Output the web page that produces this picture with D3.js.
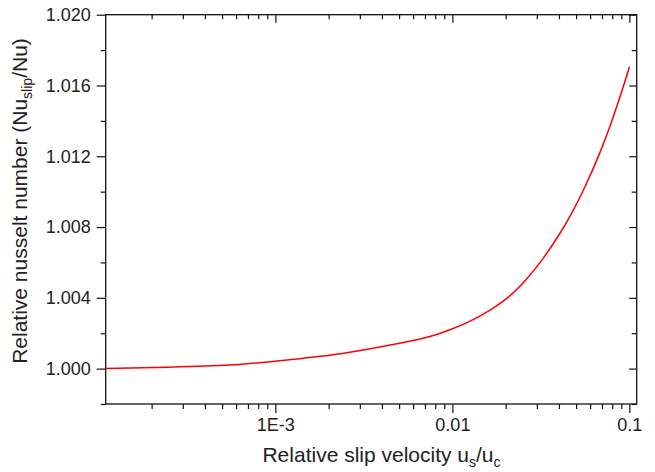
<!DOCTYPE html>
<html>
<head>
<meta charset="utf-8">
<script src="https://cdn.jsdelivr.net/npm/d3@7"></script>
<style>
  html, body { margin: 0; padding: 0; background: #fff; }
  svg { display: block; }
  text { font-family: "Liberation Sans", Arial, Helvetica, sans-serif; fill: #222; }
</style>
</head>
<body>
<svg id="chart" width="655" height="472"></svg>
<script>
// ---- data ----
const slipVelocity = [1.1e-4, 2.47e-4, 5.83e-4, 1.221e-3, 2.331e-3, 4.454e-3, 7.456e-3, 9.672e-3, 0.01251, 0.01632, 0.02103, 0.02612, 0.03234, 0.04014, 0.04766, 0.05666, 0.06824, 0.07947, 0.0924, 0.1];
const nusseltRatio = [1.00000, 1.00008, 1.00022, 1.00051, 1.00084, 1.00133, 1.00182, 1.00220, 1.00267, 1.00331, 1.00410, 1.00504, 1.00619, 1.00758, 1.00886, 1.01036, 1.01222, 1.01398, 1.01594, 1.01706];
const xMajorTicks = [1e-3, 1e-2, 1e-1];
const xTickLabels = ["1E-3", "0.01", "0.1"];
const yMajorTicks = [1.000, 1.004, 1.008, 1.012, 1.016, 1.020];
const yTickLabels = ["1.000", "1.004", "1.008", "1.012", "1.016", "1.020"];
const yMinorTicks = [0.998, 1.002, 1.006, 1.010, 1.014, 1.018];
const xDomain = [1.1e-4, 0.11];
const yDomain = [0.998, 1.020];

// ---- layout ----
const mLeft = 105.7, mRight = 636.7, mTop = 14.7, mBottom = 404;
const svg = d3.select("#chart");

const x = d3.scaleLog().domain(xDomain).range([mLeft, mRight]);
const y = d3.scaleLinear().domain(yDomain).range([mBottom, mTop]);

// minor x ticks: 2..9 x 10^k inside domain
const xMinorTicks = [];
[-4, -3, -2, -1].forEach(k => {
  for (let m = 2; m <= 9; m++) {
    const v = m * Math.pow(10, k);
    if (v >= xDomain[0] && v <= xDomain[1]) xMinorTicks.push(v);
  }
});

function styleAxis(g) {
  g.select(".domain").remove();
  g.selectAll(".tick line").attr("stroke", "#111").attr("stroke-width", 1.2);
  g.selectAll("text").attr("font-size", 18).attr("fill", "#222")
    .style("font-family", '"Liberation Sans", Arial, sans-serif');
}

// bottom axis
svg.append("g").attr("transform", `translate(0,${mBottom})`)
  .call(d3.axisBottom(x).tickValues(xMinorTicks).tickSize(5).tickFormat(""))
  .call(styleAxis);
svg.append("g").attr("transform", `translate(0,${mBottom})`)
  .call(d3.axisBottom(x).tickValues(xMajorTicks).tickSize(9).tickPadding(5)
    .tickFormat((d, i) => xTickLabels[i]))
  .call(styleAxis);

// top axis (inward ticks)
svg.append("g").attr("transform", `translate(0,${mTop})`)
  .call(d3.axisTop(x).tickValues(xMinorTicks).tickSize(-4.5).tickFormat(""))
  .call(styleAxis);
svg.append("g").attr("transform", `translate(0,${mTop})`)
  .call(d3.axisTop(x).tickValues(xMajorTicks).tickSize(-8).tickFormat(""))
  .call(styleAxis);

// left axis
svg.append("g").attr("transform", `translate(${mLeft},0)`)
  .call(d3.axisLeft(y).tickValues(yMinorTicks).tickSize(5).tickFormat(""))
  .call(styleAxis);
svg.append("g").attr("transform", `translate(${mLeft},0)`)
  .call(d3.axisLeft(y).tickValues(yMajorTicks).tickSize(9).tickPadding(6)
    .tickFormat((d, i) => yTickLabels[i]))
  .call(styleAxis);

// right axis (inward ticks)
svg.append("g").attr("transform", `translate(${mRight},0)`)
  .call(d3.axisRight(y).tickValues(yMinorTicks).tickSize(-5).tickFormat(""))
  .call(styleAxis);
svg.append("g").attr("transform", `translate(${mRight},0)`)
  .call(d3.axisRight(y).tickValues(yMajorTicks).tickSize(-7.5).tickFormat(""))
  .call(styleAxis);

// frame
svg.append("rect")
  .attr("x", mLeft).attr("y", mTop)
  .attr("width", mRight - mLeft).attr("height", mBottom - mTop)
  .attr("fill", "none").attr("stroke", "#111").attr("stroke-width", 1.3);

// curve
const pts = slipVelocity.map((v, i) => [v, nusseltRatio[i]]);
const line = d3.line()
  .x(d => x(d[0])).y(d => y(d[1]))
  .curve(d3.curveCatmullRom.alpha(0.5));
svg.append("path").datum(pts)
  .attr("d", line)
  .attr("fill", "none")
  .attr("stroke", "#ff0000")
  .attr("stroke-width", 1.5);

// x title
const xt = svg.append("text")
  .attr("x", 381.5).attr("y", 461.7)
  .attr("text-anchor", "middle")
  .attr("font-size", 21);
xt.append("tspan").text("Relative slip velocity u");
xt.append("tspan").attr("font-size", 14).attr("dy", 5).text("s");
xt.append("tspan").attr("dy", -5).text("/u");
xt.append("tspan").attr("font-size", 14).attr("dy", 5).text("c");

// y title
const yt = svg.append("text")
  .attr("transform", "translate(27,201) rotate(-90)")
  .attr("text-anchor", "middle")
  .attr("font-size", 21);
yt.append("tspan").text("Relative nusselt number (Nu");
yt.append("tspan").attr("font-size", 14).attr("dy", 5).text("slip");
yt.append("tspan").attr("dy", -5).text("/Nu)");
</script>
</body>
</html>
